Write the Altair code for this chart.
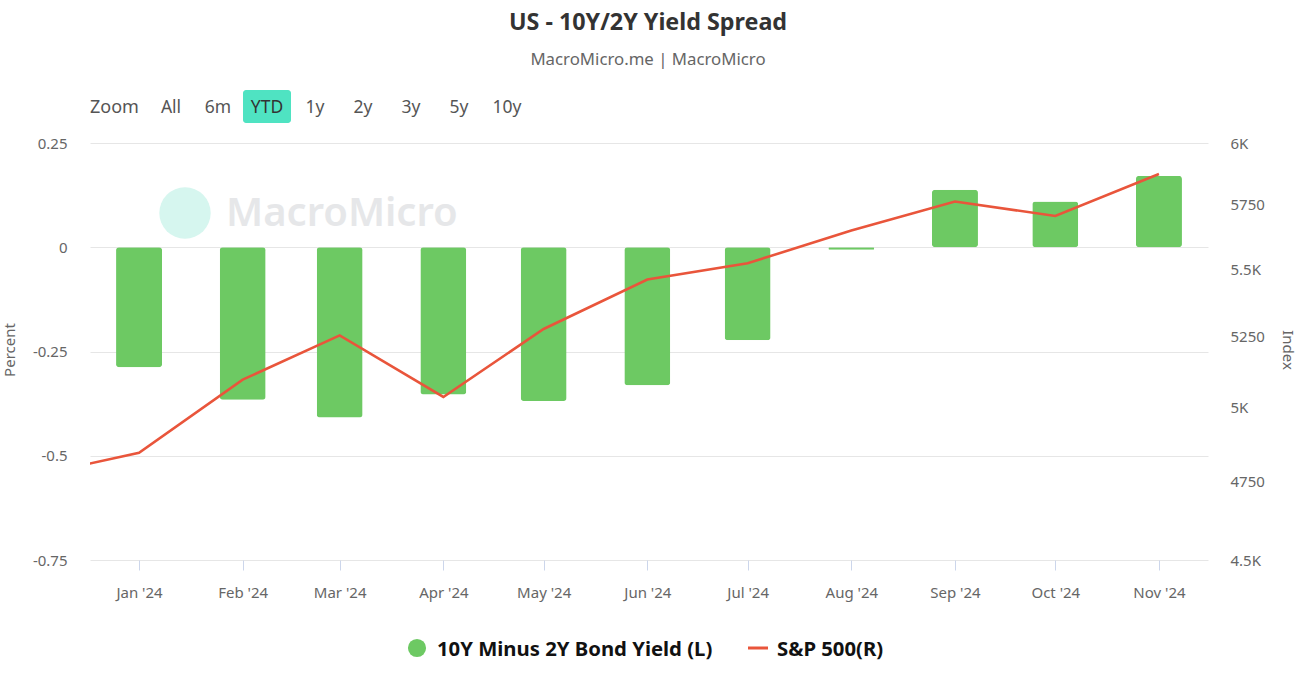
import altair as alt
import pandas as pd

# ---------------- data ----------------
bar_dates = ["2024-01-01", "2024-02-01", "2024-03-01", "2024-04-01", "2024-05-01", "2024-06-01",
             "2024-07-01", "2024-08-01", "2024-09-01", "2024-10-01", "2024-11-01"]
spread = [-0.288, -0.366, -0.408, -0.353, -0.369, -0.331, -0.223, -0.006, 0.138, 0.110, 0.171]

line_dates = ["2023-12-01", "2024-01-01", "2024-02-01", "2024-03-01", "2024-04-01", "2024-05-01",
              "2024-06-01", "2024-07-01", "2024-08-01", "2024-09-01", "2024-10-01", "2024-11-01"]
spx = [4769.8, 4845.7, 5096.3, 5254.4, 5035.7, 5277.5, 5460.5, 5522.3, 5648.4, 5762.5, 5705.5, 5873.0]

left_ticks = [-0.75, -0.5, -0.25, 0, 0.25]
right_ticks = [4500, 4750, 5000, 5250, 5500, 5750, 6000]
right_labels = ["4.5K", "4750", "5K", "5250", "5.5K", "5750", "6K"]

buttons = ["All", "6m", "YTD", "1y", "2y", "3y", "5y", "10y"]
button_x = [81, 128, 177, 225, 273, 321, 369, 417]

title_text = "US - 10Y/2Y Yield Spread"
subtitle_text = "MacroMicro.me | MacroMicro"
bar_name = "10Y Minus 2Y Bond Yield (L)"
line_name = "S&P 500(R)"

# ---------------- styles ----------------
FONT = "Noto Sans"
GREEN = "#6DC963"
RED = "#E9553B"
GRAY = "#666666"
W, H = 1118, 417

bars_df = pd.DataFrame({"date": bar_dates, "spread": spread})
line_df = pd.DataFrame({"date": line_dates, "spx": spx})
one = pd.DataFrame({"k": [0]})

x_scale = alt.Scale(type="utc", padding=0,
                    domain=[alt.DateTime(year=2023, month=12, date=17, hours=8, utc=True),
                            alt.DateTime(year=2024, month=11, date=15, hours=16, utc=True)])

x_axis = alt.Axis(labelExpr="utcFormat(datum.value, \"%b '%y\")", grid=False, domain=False,
                  tickCount={"interval": "month", "step": 1},
                  tickSize=10, tickColor="#ccd6eb", labelPadding=15,
                  labelFont=FONT, labelFontSize=15, labelColor=GRAY, title=None)

right_expr = ""
for v, lab in zip(right_ticks, right_labels):
    right_expr += f"datum.value == {v} ? '{lab}' : "
right_expr += "''"

bars = alt.Chart(bars_df).mark_bar(size=46, color=GREEN, cornerRadius=3).encode(
    x=alt.X("date:T", scale=x_scale, axis=x_axis),
    y=alt.Y("spread:Q", scale=alt.Scale(domain=[-0.75, 0.25], nice=False, zero=False),
            axis=alt.Axis(values=left_ticks, labelExpr="'' + datum.value", orient="left",
                          grid=True, gridColor="#e6e6e6", domain=False, ticks=False, tickSize=0,
                          labelPadding=23, labelFont=FONT, labelFontSize=15, labelColor=GRAY,
                          title=None)),
)

line = alt.Chart(line_df).mark_line(color=RED, strokeWidth=2.6, clip=True).encode(
    x=alt.X("date:T", scale=x_scale, axis=x_axis),
    y=alt.Y("spx:Q", scale=alt.Scale(type="log", domain=[4500, 6000], nice=False, zero=False),
            axis=alt.Axis(values=right_ticks, labelExpr=right_expr, orient="right",
                          grid=False, domain=False, ticks=False, tickSize=0,
                          labelPadding=22, labelFont=FONT, labelFontSize=15, labelColor=GRAY,
                          title=None)),
)


def txt(text, x, y, size=15, color=GRAY, weight="normal", align="center", angle=0, font=FONT):
    return alt.Chart(one).mark_text(text=text, fontSize=size, color=color, fontWeight=weight,
                                    align=align, baseline="middle", angle=angle, font=font).encode(
        x=alt.value(x), y=alt.value(y))


deco = []
# watermark
deco.append(alt.Chart(one).mark_point(filled=True, shape="circle", size=2642, color="#d6f6ef", opacity=1).encode(
    x=alt.value(95), y=alt.value(70)))
deco.append(txt("MacroMicro", 136, 71, size=40, color="#e6e7e9", weight=600, align="left"))

# title/subtitle
deco.append(txt(title_text, 558, -120, size=23.3, color="#333333", weight="bold"))
deco.append(txt(subtitle_text, 558, -83, size=16.8, color=GRAY))

# range selector
deco.append(alt.Chart(one).mark_rect(color="#4FE3C2", cornerRadius=3).encode(
    x=alt.value(153), x2=alt.value(201), y=alt.value(-53), y2=alt.value(-20)))
deco.append(txt("Zoom", 0, -35, size=18, color="#555555", align="left"))
for b, bx in zip(buttons, button_x):
    deco.append(txt(b, bx, -35, size=17.5, color="#333333" if b == "YTD" else "#555555"))

# axis titles
deco.append(txt("Percent", -80, 207, size=15, color=GRAY, angle=270))
deco.append(txt("Index", 1198, 207, size=15, color=GRAY, angle=90))

# legend
deco.append(alt.Chart(one).mark_point(filled=True, shape="circle", size=330, color=GREEN, opacity=1).encode(
    x=alt.value(327), y=alt.value(505)))
deco.append(txt(bar_name, 347, 507, size=20.3, color="#111111", weight="bold", align="left"))
deco.append(alt.Chart(one).mark_rule(color=RED, strokeWidth=3).encode(
    x=alt.value(658), x2=alt.value(678), y=alt.value(505)))
deco.append(txt(line_name, 687, 507, size=20.3, color="#111111", weight="bold", align="left"))

chart = alt.layer(deco[0], deco[1], bars, line, *deco[2:]).resolve_scale(
    y="independent"
).properties(
    width=W, height=H,
    autosize=alt.AutoSizeParams(type="none"),
    padding={"left": 90, "top": 143, "right": 98, "bottom": 124},
    background="white",
).configure_view(stroke=None)

chart.save("out.html", embed_options={"renderer": "svg", "actions": False})
